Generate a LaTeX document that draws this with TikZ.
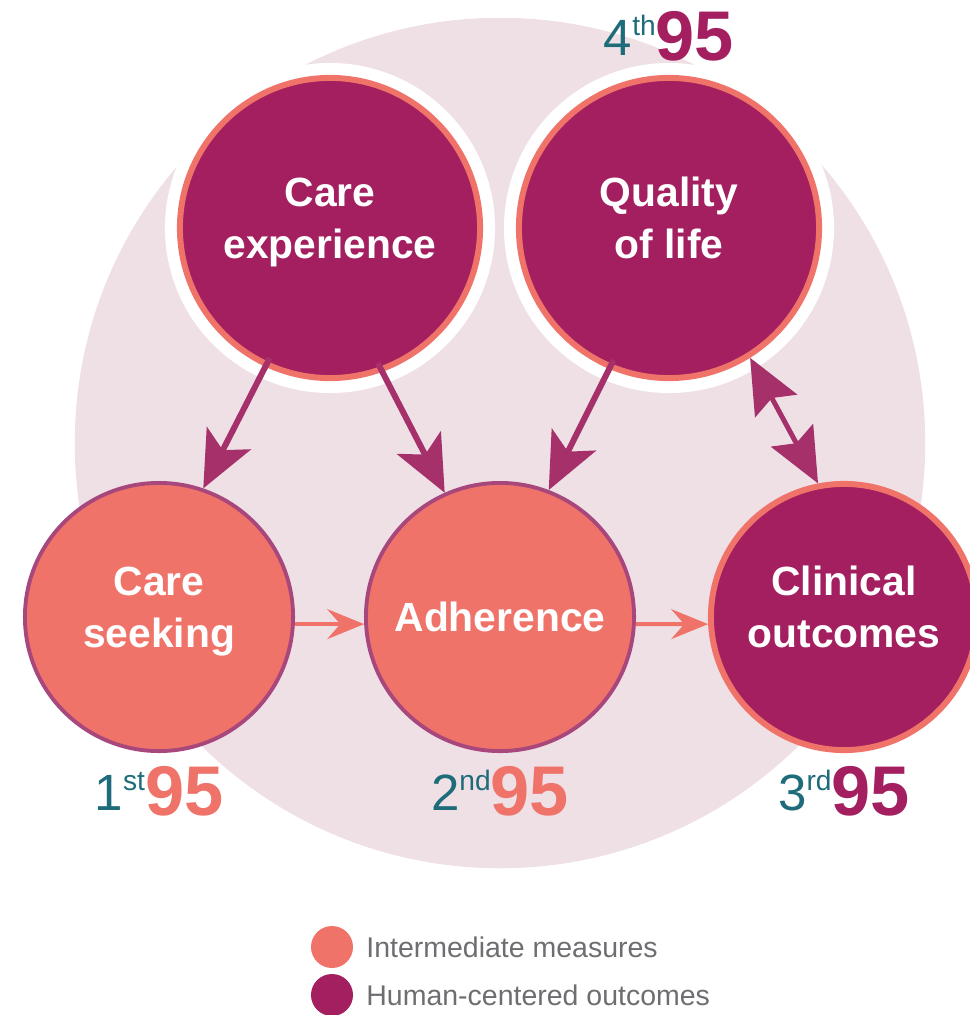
\documentclass[tikz,border=0pt]{standalone}
\usepackage{fontspec}
\setmainfont{Liberation Sans}
\usetikzlibrary{arrows.meta,positioning}

\definecolor{plum}{HTML}{A31F5F}
\definecolor{salmon}{HTML}{F0736A}
\definecolor{plumline}{HTML}{A8477C}
\definecolor{plumarrow}{HTML}{A5306A}
\definecolor{tealink}{HTML}{1E6B79}
\definecolor{blush}{HTML}{EFE0E6}
\definecolor{keygrey}{HTML}{6D6E71}

% ordinal + big 95 under each circle
\newcommand{\rankno}[3]{%
  \raisebox{1.4pt}{\fontsize{14.5}{14.5}\selectfont\color{tealink}#1}%
  \raisebox{7.1pt}{\fontsize{8}{8}\selectfont\color{tealink}#2}%
  {\fontsize{20}{20}\selectfont\bfseries\color{#3}95}}
% extra depth so two-line labels sit a bit high in the circle
\newcommand{\lowstrut}{\rule[-0.2cm]{0pt}{0pt}}

\tikzset{
  outcome/.style={circle, inner sep=0pt, minimum size=3cm, fill=plum, draw=salmon,
    line width=1.7pt, text=white, align=center,
    font=\fontsize{11.6}{14.9}\selectfont\bfseries},
  halo/.style={preaction={draw=white, line width=8.5pt}},
  measure/.style={outcome, minimum size=2.68cm, fill=salmon, draw=plumline, line width=1.1pt},
  influence/.style={plumarrow, line width=1.7pt, shorten <=-2.8pt,
    -{Stealth[length=16pt, width=14pt, inset=3.8pt]}},
  mutual/.style={plumarrow, line width=1.4pt,
    {Stealth[length=15.5pt, width=13.5pt, inset=2.5pt]}-{Stealth[length=15.5pt, width=13.5pt, inset=2.5pt]}},
  flow/.style={salmon, line width=1.1pt, -{Stealth[length=10.5pt, width=8.5pt, inset=3.7pt]}},
  rank/.style={inner sep=0pt},
  keydot/.style={circle, inner sep=0pt, minimum size=0.42cm},
  keytext/.style={text=keygrey, inner sep=0pt, font=\fontsize{8.1}{10}\selectfont}
}

\begin{document}
\begin{tikzpicture}[x=0.01cm, y=-0.01cm]
    \useasboundingbox (0,0) rectangle (969,1015);
    \fill[blush] (500,443) circle (4.25cm);

    % upper row
    \node[outcome, halo] (ce) at (330,228) {Care\\experience\lowstrut};
    \node[outcome, halo] (qol) at (669,228) {Quality\\of life\lowstrut};

    % lower row
    \node[measure] (cs) at (159,617) {Care\\seeking\lowstrut};
    \node[measure] (ad) at (500,617) {Adherence};
    \node[outcome, minimum size=2.66cm] (co) at (844,617) {Clinical\\outcomes\lowstrut};

    \draw[influence] (ce.245) -- (cs.71);
    \draw[influence] (ce.290) -- (ad.114);
    \draw[influence] (qol.247) -- (ad.69);
    \draw[mutual] (qol.302) -- (co.101);

    \draw[flow] (cs.-3) -- (ad.183);
    \draw[flow] (ad.-3) -- (co.183);

    \node[rank, below=0.13cm of cs] (cslab) {\rankno{1}{st}{salmon}};
    \node[rank, below=0.13cm of ad] (adlab) {\rankno{2}{nd}{salmon}};
    \node[rank, below=0.13cm of co] (colab) {\rankno{3}{rd}{plum}};
    \node[rank, above=0.13cm of qol] (qollab) {\rankno{4}{th}{plum}};

    % key
    \node[keydot, fill=salmon] (keymeas) at (332,947) {};
    \node[keytext, right=0.12cm of keymeas] (keymeastxt) {Intermediate measures};
    \node[keydot, fill=plum] (keyhum) at (332,995) {};
    \node[keytext, right=0.12cm of keyhum] (keyhumtxt) {Human-centered outcomes};
\end{tikzpicture}
\end{document}
